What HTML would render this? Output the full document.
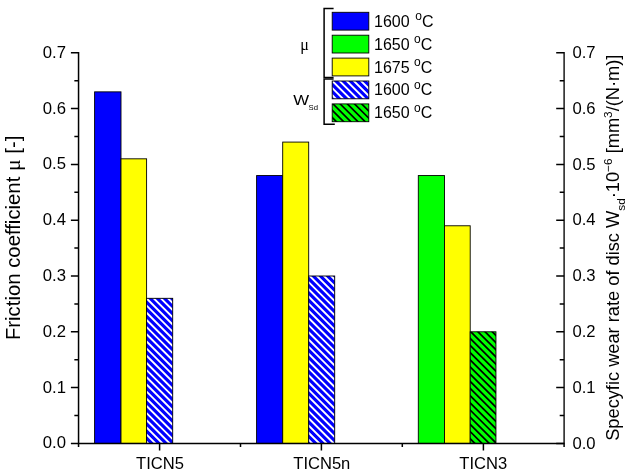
<!DOCTYPE html>
<html><head><meta charset="utf-8"><title>chart</title>
<style>
html,body{margin:0;padding:0;background:#fff;}
svg{display:block;font-family:"Liberation Sans",sans-serif;}
</style></head><body>
<svg width="630" height="474" viewBox="0 0 630 474">
<rect width="630" height="474" fill="#fff"/>

<rect x="94.60" y="91.86" width="26.40" height="351.54" fill="#0000ff" stroke="#000" stroke-width="0.9"/>
<rect x="121.00" y="158.82" width="25.60" height="284.58" fill="#ffff00" stroke="#000" stroke-width="0.9"/>
<clipPath id="c1"><rect x="146.60" y="298.32" width="26.10" height="145.08"/></clipPath>
<rect x="146.60" y="298.32" width="26.10" height="145.08" fill="#0000ff"/>
<path clip-path="url(#c1)" d="M1.12,296.32L150.20,445.40M8.29,296.32L157.37,445.40M15.46,296.32L164.54,445.40M22.63,296.32L171.71,445.40M29.80,296.32L178.88,445.40M36.97,296.32L186.05,445.40M44.14,296.32L193.22,445.40M51.31,296.32L200.39,445.40M58.48,296.32L207.56,445.40M65.65,296.32L214.73,445.40M72.82,296.32L221.90,445.40M79.99,296.32L229.07,445.40M87.16,296.32L236.24,445.40M94.33,296.32L243.41,445.40M101.50,296.32L250.58,445.40M108.67,296.32L257.75,445.40M115.84,296.32L264.92,445.40M123.01,296.32L272.09,445.40M130.18,296.32L279.26,445.40M137.35,296.32L286.43,445.40M144.52,296.32L293.60,445.40M151.69,296.32L300.77,445.40M158.86,296.32L307.94,445.40M166.03,296.32L315.11,445.40" stroke="#fff" stroke-width="1.9" fill="none"/>
<rect x="146.60" y="298.32" width="26.10" height="145.08" fill="none" stroke="#000" stroke-width="0.9"/>
<rect x="256.60" y="175.56" width="26.10" height="267.84" fill="#0000ff" stroke="#000" stroke-width="0.9"/>
<rect x="282.70" y="142.08" width="26.00" height="301.32" fill="#ffff00" stroke="#000" stroke-width="0.9"/>
<clipPath id="c2"><rect x="308.70" y="276.00" width="26.00" height="167.40"/></clipPath>
<rect x="308.70" y="276.00" width="26.00" height="167.40" fill="#0000ff"/>
<path clip-path="url(#c2)" d="M142.79,274.00L314.19,445.40M149.96,274.00L321.36,445.40M157.13,274.00L328.53,445.40M164.30,274.00L335.70,445.40M171.47,274.00L342.87,445.40M178.64,274.00L350.04,445.40M185.81,274.00L357.21,445.40M192.98,274.00L364.38,445.40M200.15,274.00L371.55,445.40M207.32,274.00L378.72,445.40M214.49,274.00L385.89,445.40M221.66,274.00L393.06,445.40M228.83,274.00L400.23,445.40M236.00,274.00L407.40,445.40M243.17,274.00L414.57,445.40M250.34,274.00L421.74,445.40M257.51,274.00L428.91,445.40M264.68,274.00L436.08,445.40M271.85,274.00L443.25,445.40M279.02,274.00L450.42,445.40M286.19,274.00L457.59,445.40M293.36,274.00L464.76,445.40M300.53,274.00L471.93,445.40M307.70,274.00L479.10,445.40M314.87,274.00L486.27,445.40M322.04,274.00L493.44,445.40M329.21,274.00L500.61,445.40" stroke="#fff" stroke-width="1.9" fill="none"/>
<rect x="308.70" y="276.00" width="26.00" height="167.40" fill="none" stroke="#000" stroke-width="0.9"/>
<rect x="418.30" y="175.56" width="26.20" height="267.84" fill="#00ff00" stroke="#000" stroke-width="0.9"/>
<rect x="444.50" y="225.78" width="25.70" height="217.62" fill="#ffff00" stroke="#000" stroke-width="0.9"/>
<clipPath id="c3"><rect x="470.20" y="331.80" width="25.75" height="111.60"/></clipPath>
<rect x="470.20" y="331.80" width="25.75" height="111.60" fill="#00ff00"/>
<path clip-path="url(#c3)" d="M361.25,329.80L476.85,445.40M368.42,329.80L484.02,445.40M375.59,329.80L491.19,445.40M382.76,329.80L498.36,445.40M389.93,329.80L505.53,445.40M397.10,329.80L512.70,445.40M404.27,329.80L519.87,445.40M411.44,329.80L527.04,445.40M418.61,329.80L534.21,445.40M425.78,329.80L541.38,445.40M432.95,329.80L548.55,445.40M440.12,329.80L555.72,445.40M447.29,329.80L562.89,445.40M454.46,329.80L570.06,445.40M461.63,329.80L577.23,445.40M468.80,329.80L584.40,445.40M475.97,329.80L591.57,445.40M483.14,329.80L598.74,445.40M490.31,329.80L605.91,445.40" stroke="#000" stroke-width="1.75" fill="none"/>
<rect x="470.20" y="331.80" width="25.75" height="111.60" fill="none" stroke="#000" stroke-width="0.9"/>
<g stroke="#000" fill="none" stroke-linecap="butt" stroke-linejoin="miter">
<path stroke-width="1.5" d="M78.55,52.05 V443.4 M77.8,443.4 H564.75"/>
<path stroke-width="1.35" d="M564.1,443.4 V52.05"/>
<path stroke-width="1.5" d="M78.55,443.40 H70.9 M564.1,443.40 H556.2 M78.55,415.50 h-4.2 M564.1,415.50 h-4.4 M78.55,387.60 H70.9 M564.1,387.60 H556.2 M78.55,359.70 h-4.2 M564.1,359.70 h-4.4 M78.55,331.80 H70.9 M564.1,331.80 H556.2 M78.55,303.90 h-4.2 M564.1,303.90 h-4.4 M78.55,276.00 H70.9 M564.1,276.00 H556.2 M78.55,248.10 h-4.2 M564.1,248.10 h-4.4 M78.55,220.20 H70.9 M564.1,220.20 H556.2 M78.55,192.30 h-4.2 M564.1,192.30 h-4.4 M78.55,164.40 H70.9 M564.1,164.40 H556.2 M78.55,136.50 h-4.2 M564.1,136.50 h-4.4 M78.55,108.60 H70.9 M564.1,108.60 H556.2 M78.55,80.70 h-4.2 M564.1,80.70 h-4.4 M78.55,52.80 H70.9 M564.1,52.80 H556.2 M159.6,443.4 v7 M321.4,443.4 v7 M483.4,443.4 v7 M78.55,443.4 v3.7 M240.5,443.4 v3.7 M402.3,443.4 v3.7 M564.1,443.4 v3.7"/>
</g>
<g font-size="16" fill="#000">
<text transform="translate(66.0,448.40) scale(1.045,1)" text-anchor="end">0.0</text>
<text transform="translate(572.5,448.50) scale(1.04,1)">0.0</text>
<text transform="translate(66.0,392.60) scale(1.045,1)" text-anchor="end">0.1</text>
<text transform="translate(572.5,392.70) scale(1.04,1)">0.1</text>
<text transform="translate(66.0,336.80) scale(1.045,1)" text-anchor="end">0.2</text>
<text transform="translate(572.5,336.90) scale(1.04,1)">0.2</text>
<text transform="translate(66.0,281.00) scale(1.045,1)" text-anchor="end">0.3</text>
<text transform="translate(572.5,281.10) scale(1.04,1)">0.3</text>
<text transform="translate(66.0,225.20) scale(1.045,1)" text-anchor="end">0.4</text>
<text transform="translate(572.5,225.30) scale(1.04,1)">0.4</text>
<text transform="translate(66.0,169.40) scale(1.045,1)" text-anchor="end">0.5</text>
<text transform="translate(572.5,169.50) scale(1.04,1)">0.5</text>
<text transform="translate(66.0,113.60) scale(1.045,1)" text-anchor="end">0.6</text>
<text transform="translate(572.5,113.70) scale(1.04,1)">0.6</text>
<text transform="translate(66.0,57.80) scale(1.045,1)" text-anchor="end">0.7</text>
<text transform="translate(572.5,57.90) scale(1.04,1)">0.7</text>
<text transform="translate(160,469.0) scale(1.035,0.98)" text-anchor="middle">TICN5</text>
<text transform="translate(321.8,469.0) scale(1.035,0.98)" text-anchor="middle">TICN5n</text>
<text transform="translate(483.2,469.0) scale(1.035,0.98)" text-anchor="middle">TICN3</text>
</g>
<text transform="translate(20.0,340.1) rotate(-90) scale(1.0167,1)" font-size="20" fill="#000">Friction coefficient <tspan font-family="'Liberation Serif',serif" font-size="21.5">μ</tspan> [-]</text>
<text transform="translate(619.0,440.8) rotate(-90) scale(1.0137,1)" font-size="18" fill="#000">Specyfic wear rate of disc W<tspan font-size="11.7" dy="6">sd</tspan><tspan dy="-6">·10</tspan><tspan font-size="11.7" dy="-7.3">−6</tspan><tspan dy="7.3"> [mm</tspan><tspan font-size="11.7" dy="-7.3">3</tspan><tspan dy="7.3">/(N·m)]</tspan></text>
<rect x="332.2" y="12.3" width="36.6" height="17.8" fill="#0000ff" stroke="#000" stroke-width="0.9"/>
<text x="374" y="26.7" font-size="16" fill="#000">1600 <tspan font-size="12" dy="-6.3" dx="1.2">o</tspan><tspan dy="6.3">C</tspan></text>
<rect x="332.2" y="35.2" width="36.6" height="17.8" fill="#00ff00" stroke="#000" stroke-width="0.9"/>
<text x="374" y="49.6" font-size="16" fill="#000">1650 <tspan font-size="12" dy="-6.3">o</tspan><tspan dy="6.3">C</tspan></text>
<rect x="332.2" y="58.1" width="36.6" height="17.8" fill="#ffff00" stroke="#000" stroke-width="0.9"/>
<text x="374" y="72.5" font-size="16" fill="#000">1675 <tspan font-size="12" dy="-6.3">o</tspan><tspan dy="6.3">C</tspan></text>
<clipPath id="c4"><rect x="332.20" y="81.00" width="36.60" height="17.80"/></clipPath>
<rect x="332.20" y="81.00" width="36.60" height="17.80" fill="#0000ff"/>
<path clip-path="url(#c4)" d="M316.06,79.00L337.86,100.80M323.23,79.00L345.03,100.80M330.40,79.00L352.20,100.80M337.57,79.00L359.37,100.80M344.74,79.00L366.54,100.80M351.91,79.00L373.71,100.80M359.08,79.00L380.88,100.80M366.25,79.00L388.05,100.80" stroke="#fff" stroke-width="1.9" fill="none"/>
<rect x="332.20" y="81.00" width="36.60" height="17.80" fill="none" stroke="#000" stroke-width="0.9"/>
<text x="374" y="95.4" font-size="16" fill="#000">1600 <tspan font-size="12" dy="-6.3">o</tspan><tspan dy="6.3">C</tspan></text>
<clipPath id="c5"><rect x="332.20" y="103.90" width="36.60" height="17.80"/></clipPath>
<rect x="332.20" y="103.90" width="36.60" height="17.80" fill="#00ff00"/>
<path clip-path="url(#c5)" d="M316.66,101.90L338.46,123.70M323.83,101.90L345.63,123.70M331.00,101.90L352.80,123.70M338.17,101.90L359.97,123.70M345.34,101.90L367.14,123.70M352.51,101.90L374.31,123.70M359.68,101.90L381.48,123.70M366.85,101.90L388.65,123.70" stroke="#000" stroke-width="1.7" fill="none"/>
<rect x="332.20" y="103.90" width="36.60" height="17.80" fill="none" stroke="#000" stroke-width="0.9"/>
<text x="374" y="118.3" font-size="16" fill="#000">1650 <tspan font-size="12" dy="-6.3">o</tspan><tspan dy="6.3">C</tspan></text>
<g stroke="#000" stroke-width="1.5" fill="none"><path d="M333.6,8.6 H324.1 V77.4 H333.6"/><path d="M333.6,78.9 H324.1 V124.2 H334.8"/></g>
<text x="300.2" y="49.5" font-family="'Liberation Serif',serif" font-size="16" fill="#000">μ</text>
<text transform="translate(293.2,105.0) scale(1.05,0.97)" font-size="16" fill="#000">W<tspan font-size="7.4" dy="4.8" dx="-0.4">Sd</tspan></text>
</svg></body></html>
